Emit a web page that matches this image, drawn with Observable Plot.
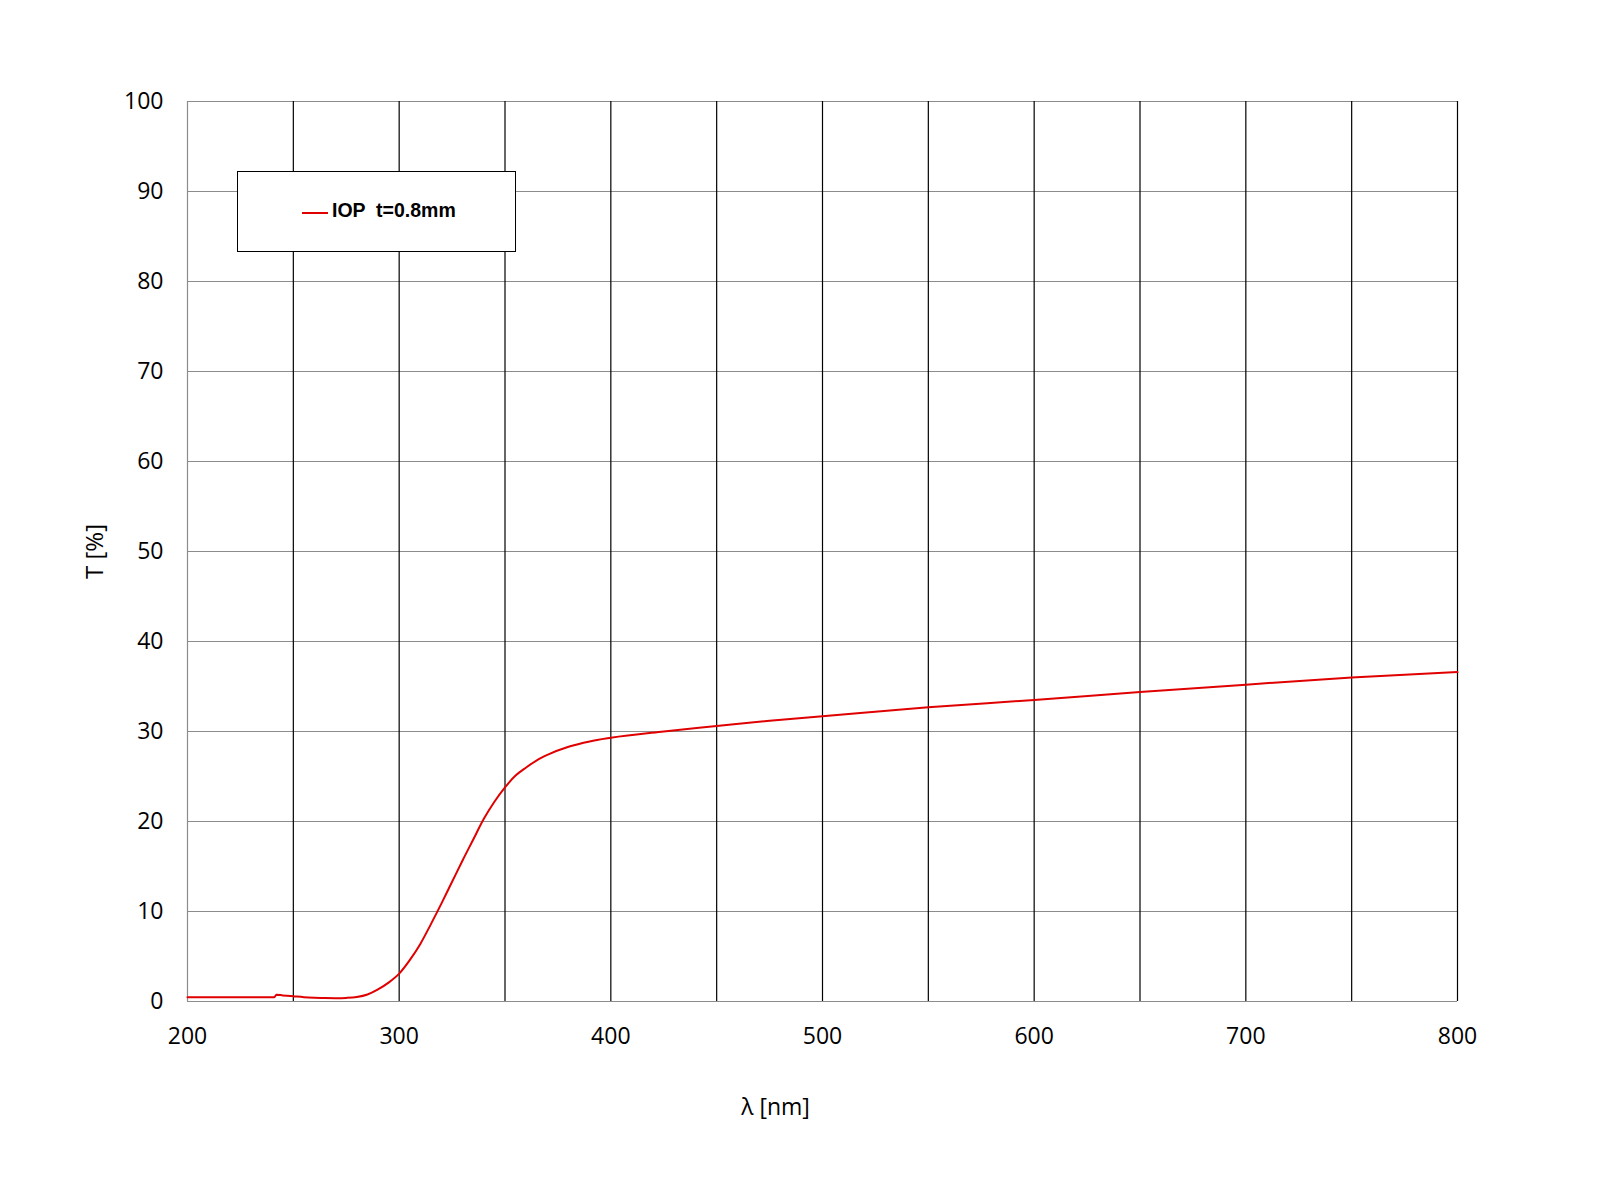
<!DOCTYPE html>
<html>
<head>
<meta charset="utf-8">
<script src="https://cdn.jsdelivr.net/npm/d3@7"></script>
<script src="https://cdn.jsdelivr.net/npm/@observablehq/plot@0.6"></script>
<style>
  html, body { margin: 0; padding: 0; background: #fff; }
  #wrap { position: relative; width: 1600px; height: 1200px; font-family: "Open Sans", sans-serif; }
  #legend { position: absolute; left: 237px; top: 171px; width: 279px; height: 81px; border: 1px solid #000; background: #fff; box-sizing: border-box; }
  #legend .ln { position: absolute; left: 64px; top: 40px; width: 26px; height: 2px; background: #e00000; }
  #legend .tx { position: absolute; left: 94px; top: 27px; font: bold 19.5px "Liberation Sans", Arial, sans-serif; color: #000; white-space: pre; }
</style>
</head>
<body>
<div id="wrap"></div>
<script>
const seriesName = "IOP  t=0.8mm";
const wavelength = [200, 241, 242, 245, 250, 255, 260, 265, 270, 275, 280, 285, 290, 295, 300, 305, 310, 315, 320, 325, 330, 335, 340, 345, 350, 355, 360, 365, 370, 380, 390, 400, 425, 450, 475, 500, 550, 600, 650, 700, 750, 800];
const transmission = [0.48, 0.48, 0.75, 0.68, 0.58, 0.48, 0.42, 0.38, 0.37, 0.40, 0.50, 0.78, 1.35, 2.1, 3.1, 4.6, 6.4, 8.6, 10.9, 13.3, 15.7, 18.0, 20.3, 22.2, 23.8, 25.1, 26.0, 26.8, 27.4, 28.3, 28.9, 29.3, 30.0, 30.6, 31.2, 31.7, 32.7, 33.5, 34.4, 35.2, 36.0, 36.6];
const xTicks = [200, 300, 400, 500, 600, 700, 800];
const xGrid = [250, 300, 350, 400, 450, 500, 550, 600, 650, 700, 750, 800];
const yTicks = [0, 10, 20, 30, 40, 50, 60, 70, 80, 90, 100];
const xLabel = "λ [nm]";
const yLabel = "T [%]";

const data = wavelength.map((w, i) => ({w, t: transmission[i]}));

const chart = Plot.plot({
  width: 1600,
  height: 1200,
  marginLeft: 187,
  marginRight: 143,
  marginTop: 101,
  marginBottom: 199,
  style: {fontFamily: "'Open Sans', sans-serif", fontSize: "23px", color: "#000", background: "#fff"},
  x: {domain: [200, 800]},
  y: {domain: [0, 100]},
  marks: [
    Plot.ruleY(yTicks, {stroke: "#8c8c8c", strokeWidth: 1.2}),
    Plot.ruleX([200], {stroke: "#8c8c8c", strokeWidth: 1.2}),
    Plot.ruleX(xGrid, {stroke: "#000", strokeWidth: 1.2}),
    Plot.line(data, {x: "w", y: "t", stroke: "#e00000", strokeWidth: 2, curve: "monotone-x"}),
    Plot.axisX(xTicks, {tickSize: 0, tickPadding: 26, fontSize: 23, label: null}),
    Plot.axisY(yTicks, {tickSize: 0, tickPadding: 24, fontSize: 23, label: null}),
    Plot.text([xLabel], {frameAnchor: "bottom", textAnchor: "middle", dy: 113, dx: -47, fontSize: 23}),
    Plot.text([yLabel], {frameAnchor: "left", textAnchor: "middle", dx: -92, rotate: -90, fontSize: 24, letterSpacing: "1.5px"})
  ]
});

const wrap = document.getElementById("wrap");
wrap.appendChild(chart);
const legend = document.createElement("div");
legend.id = "legend";
legend.innerHTML = '<div class="ln"></div><div class="tx"></div>';
legend.querySelector(".tx").textContent = seriesName;
wrap.appendChild(legend);
</script>
</body>
</html>
